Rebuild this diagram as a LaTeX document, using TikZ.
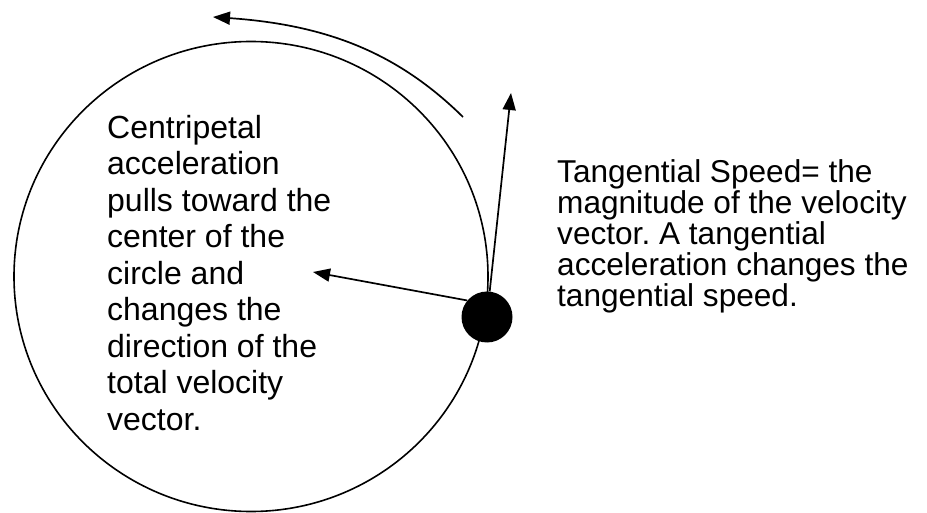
\documentclass[tikz,border=0pt]{standalone}
\usepackage{fontspec}
\setmainfont{Liberation Sans}
\usetikzlibrary{positioning,arrows.meta}
\frenchspacing

\begin{document}
\begin{tikzpicture}[x=1pt,y=-1pt,
  vec/.style={line width=1.7pt,-{Triangle[length=17pt,width=13pt]}},
  ball/.style={circle,fill=black,inner sep=0pt,minimum size=51pt},
  note/.style={align=left,inner sep=0pt,anchor=base west}]
\useasboundingbox (0,0) rectangle (927,513);
\coordinate (o) at (251,276.5);
\draw[line width=1.6pt] (o) ellipse [x radius=237, y radius=235];
\node[ball] (ball) at (487,317) {};
\coordinate (ctip) at (313,272); \coordinate (vtip) at (511,93);
\coordinate (pstart) at (463,117); \coordinate (ptip) at (213,17);
\draw[vec] (ball.140) -- (ctip);
\draw[vec] (ball.84) -- (vtip);
\draw[vec] (pstart) .. controls (400,55) and (330,25) .. (ptip);
% anchor is the baseline of the last line
\node[note,font=\fontsize{32}{36.5}\selectfont] (centri) at (107,430)
  {Centripetal\\acceleration\\pulls toward the\\center of the\\circle and\\changes the\\direction of the\\total velocity\\vector.};
\node[note,font=\fontsize{31.6}{31}\selectfont] (tang) at (557,306)
  {Tangential Speed= the\\magnitude of the velocity\\vector. A tangential\\acceleration changes the\\tangential speed.};
\end{tikzpicture}
\end{document}
